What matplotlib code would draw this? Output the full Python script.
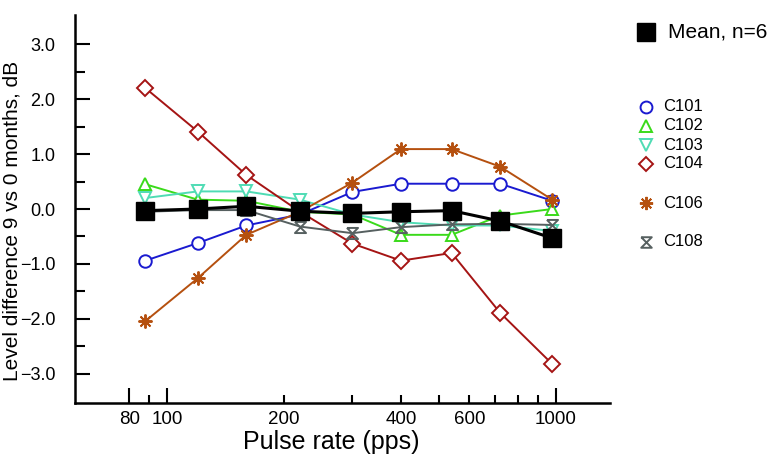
import matplotlib
matplotlib.use("Agg")
import matplotlib.pyplot as plt
from matplotlib.lines import Line2D
from matplotlib.path import Path
import numpy as np

plt.rcParams['font.family'] = ['Liberation Sans', 'DejaVu Sans']

# ---------------- data ----------------
rates = [88, 120, 160, 220, 300, 400, 540, 720, 980]
c101 = [-0.94, -0.62, -0.30, -0.10, 0.31, 0.46, 0.46, 0.46, 0.15]
c102 = [0.45, 0.17, 0.15, -0.05, -0.10, -0.47, -0.47, -0.12, 0.00]
c103 = [0.20, 0.32, 0.32, 0.17, -0.10, -0.24, -0.30, -0.30, -0.40]
c104 = [2.20, 1.41, 0.62, -0.05, -0.63, -0.94, -0.80, -1.89, -2.82]
c106 = [-2.04, -1.26, -0.47, -0.05, 0.48, 1.09, 1.09, 0.77, 0.17]
c108 = [-0.05, -0.02, -0.02, -0.32, -0.44, -0.33, -0.28, -0.27, -0.29]
mean = [-0.03, 0.00, 0.05, -0.04, -0.08, -0.05, -0.03, -0.22, -0.53]

subject_names = ["C101", "C102", "C103", "C104", "C106", "C108"]
mean_label = "Mean, n=6"
x_ticklabels = ["80", "100", "200", "400", "600", "1000"]
x_label_ticks = [80, 100, 200, 400, 600, 1000]
y_ticks = [-3.0, -2.0, -1.0, 0.0, 1.0, 2.0, 3.0]

# ---------------- style ----------------
hourglass = Path([(-1, 1), (1, 1), (-1, -1), (1, -1), (-1, 1)],
                 [Path.MOVETO, Path.LINETO, Path.LINETO, Path.LINETO, Path.LINETO])
styles = {
    "C101": dict(color="#1a1ad0", marker="o", ms=9),
    "C102": dict(color="#3ada1a", marker="^", ms=9),
    "C103": dict(color="#4fdcb4", marker="v", ms=9),
    "C104": dict(color="#a51414", marker="D", ms=8),
    "C106": dict(color="#b5500f", marker=(8, 2, 0), ms=10),
    "C108": dict(color="#566060", marker=hourglass, ms=8),
}
series = dict(zip(subject_names, [c101, c102, c103, c104, c106, c108]))

W, H = 773, 458
fig = plt.figure(figsize=(W / 100, H / 100), dpi=100)
ax = fig.add_axes([75 / W, (H - 403) / H, (610 - 75) / W, (403 - 15) / H])

for name in subject_names:
    st = styles[name]
    filled = name not in ("C106", "C108")
    ax.plot(rates, series[name], color=st["color"], lw=1.4,
            marker=st["marker"], ms=st["ms"], mfc="white" if filled else "none",
            mec=st["color"], mew=1.4, zorder=3)

ax.plot(rates, mean, color="black", lw=2.2, marker="s", ms=13, mfc="black",
        mec="black", zorder=5)

ax.set_xscale("log")
ax.set_xlim(58, 1380)
ax.set_ylim(-3.53, 3.53)

# x ticks
ax.xaxis.set_major_locator(matplotlib.ticker.FixedLocator([80, 100, 1000]))
ax.xaxis.set_minor_locator(matplotlib.ticker.FixedLocator([90, 200, 300, 400, 500, 600, 700, 800, 900]))
ax.xaxis.set_major_formatter(matplotlib.ticker.NullFormatter())
ax.xaxis.set_minor_formatter(matplotlib.ticker.NullFormatter())
ax.tick_params(axis="x", which="major", direction="in", length=11, width=1.5)
ax.tick_params(axis="x", which="minor", direction="in", length=6, width=1.5)
for v, lab in zip(x_label_ticks, x_ticklabels):
    ax.text(v, -0.043, lab, transform=ax.get_xaxis_transform(), ha="center",
            va="center", fontsize=13.5)

# y ticks
ax.set_yticks(y_ticks)
ax.set_yticklabels([("\u2212" if t < 0 else "") + f"{abs(t):.1f}" for t in y_ticks], fontsize=13)
ax.yaxis.set_minor_locator(matplotlib.ticker.FixedLocator(np.arange(-2.5, 2.6, 1.0)))
ax.tick_params(axis="y", which="major", direction="in", length=11, width=1.5, pad=14)
ax.tick_params(axis="y", which="minor", direction="in", length=7, width=1.5)

for s in ["top", "right"]:
    ax.spines[s].set_visible(False)
for s in ["left", "bottom"]:
    ax.spines[s].set_linewidth(1.8)

fig.text(331 / W, 1 - 442 / H, "Pulse rate (pps)", ha="center", va="center", fontsize=18)
fig.text(12 / W, 1 - 221 / H, "Level difference 9 vs 0 months, dB", ha="center",
         va="center", rotation=90, fontsize=15)

# legend (manual)
fig.add_artist(Line2D([646 / W], [1 - 32 / H], transform=fig.transFigure, marker="s",
                      ms=13, color="black", ls="none"))
fig.text(668 / W, 1 - 32 / H, mean_label, ha="left", va="center", fontsize=15)
leg_y = [107, 126, 145, 164, 203, 242]
for name, yy in zip(subject_names, leg_y):
    st = styles[name]
    fig.add_artist(Line2D([646 / W], [1 - yy / H], transform=fig.transFigure,
                          marker=st["marker"], ms=st["ms"] * 0.95, mfc="none",
                          mec=st["color"], mew=1.4, ls="none"))
    fig.text(663 / W, 1 - yy / H, name, ha="left", va="center", fontsize=12)

fig.savefig("out.png", dpi=100)
